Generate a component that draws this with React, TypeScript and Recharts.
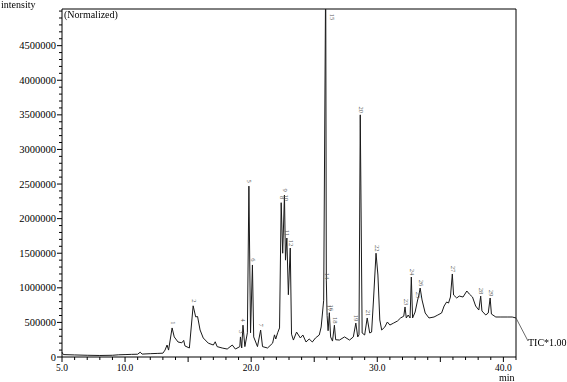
import { ComposedChart, Line, Scatter, XAxis, YAxis, ReferenceLine } from "recharts";

// retention time (min) and TIC intensity
const retentionTimes = [
  5.0, 5.1, 6.0, 7.0, 8.0, 9.0, 9.5, 10.0, 10.5, 11.0, 11.2, 11.35, 12.0, 12.6, 13.0, 13.17, 13.33, 13.45,
  13.73, 13.9, 14.2, 14.5, 14.65, 14.75, 15.1, 15.4, 15.6, 15.75, 15.95, 16.2, 16.6, 17.0, 17.15, 17.3,
  17.7, 18.1, 18.5, 18.75, 19.1, 19.15, 19.25, 19.35, 19.5, 19.7, 19.82, 19.95, 20.1, 20.2, 20.5, 20.75,
  20.9, 21.3, 21.7, 21.85, 21.95, 22.1, 22.25, 22.38, 22.5, 22.64, 22.72, 22.83, 22.95, 23.1, 23.2, 23.35,
  23.6, 23.9, 24.1, 24.35, 24.6, 24.85, 25.1, 25.4, 25.55, 25.75, 25.91, 25.96, 26.02, 26.1, 26.2, 26.3,
  26.45, 26.6, 26.7, 27.0, 27.4, 27.8, 28.1, 28.3, 28.45, 28.55, 28.65, 28.8, 29.0, 29.2, 29.4, 29.55,
  29.7, 29.9, 30.05, 30.2, 30.35, 30.6, 30.8, 31.0, 31.3, 31.6, 31.85, 32.1, 32.2, 32.3, 32.45, 32.6,
  32.7, 32.8, 33.0, 33.2, 33.3, 33.4, 33.55, 33.8, 34.1, 34.5, 34.8, 35.1, 35.3, 35.5, 35.65, 35.8,
  35.95, 36.05, 36.3, 36.5, 36.8, 37.1, 37.3, 37.55, 37.8, 38.05, 38.2, 38.3, 38.6, 38.8, 38.95, 39.05,
  39.4, 39.8, 40.3, 40.7, 41.0,
];
const intensities = [
  70000, 35000, 30000, 25000, 22000, 25000, 32000, 35000, 38000, 40000, 70000, 42000, 48000, 52000, 55000, 100000, 173000, 100000,
  420000, 290000, 217000, 205000, 240000, 160000, 130000, 740000, 580000, 585000, 390000, 275000, 200000, 173000, 220000, 150000,
  130000, 115000, 173000, 115000, 150000, 290000, 130000, 460000, 150000, 350000, 2470000, 350000, 1330000, 290000, 150000, 390000,
  150000, 130000, 200000, 320000, 260000, 350000, 420000, 2230000, 1500000, 2340000, 1400000, 1720000, 900000, 1575000, 330000, 245000,
  360000, 275000, 318000, 217000, 260000, 217000, 275000, 318000, 434000, 820000, 5600000, 1100000, 600000, 380000, 640000, 290000,
  230000, 460000, 250000, 245000, 290000, 245000, 290000, 490000, 290000, 320000, 3500000, 347000, 318000, 564000, 347000, 360000,
  824000, 1500000, 1185000, 535000, 390000, 434000, 506000, 462000, 491000, 520000, 564000, 590000, 723000, 564000, 607000, 564000,
  1156000, 564000, 650000, 824000, 896000, 997000, 824000, 636000, 564000, 578000, 607000, 636000, 737000, 795000, 780000, 867000,
  1200000, 896000, 853000, 881000, 867000, 954000, 910000, 867000, 737000, 679000, 880000, 665000, 607000, 636000, 853000, 621000,
  578000, 578000, 578000, 578000, 564000,
];

// numbered peaks
const peakNumbers = ["1", "2", "3", "4", "5", "6", "7", "8", "9", "10", "11", "12", "14", "15", "17", "16", "18", "19", "20", "21", "22", "23", "24", "25", "26", "27", "28", "29"];
const peakTimes = [13.73, 15.4, 19.15, 19.35, 19.82, 20.1, 20.75, 22.38, 22.64, 22.7, 22.83, 23.1, 25.96, 25.91, 26.15, 26.3, 26.6, 28.3, 28.65, 29.2, 29.9, 32.2, 32.7, 33.2, 33.4, 35.95, 38.2, 38.95];
const peakHeights = [420000, 740000, 290000, 460000, 2470000, 1330000, 390000, 2230000, 2340000, 2230000, 1720000, 1575000, 1100000, 5600000, 640000, 640000, 460000, 490000, 3500000, 564000, 1500000, 723000, 1156000, 824000, 997000, 1200000, 880000, 853000];

const xTickLabels = [5, 10, 20, 30, 40];
const yTickLabels = [0, 500000, 1000000, 1500000, 2000000, 2500000, 3000000, 3500000, 4000000, 4500000];

const X_MIN = 5;
const X_MAX = 41;
const Y_MAX = 5030000;

const xTicks: number[] = [];
for (let t = X_MIN; t <= X_MAX; t++) xTicks.push(t);
const yTicks: number[] = [];
for (let v = 0; v <= 5000000; v += 100000) yTicks.push(v);

const traceData = retentionTimes.map((t, i) => ({ t, v: intensities[i] }));
const peakData = peakNumbers.map((label, i) => ({
  t: peakTimes[i],
  v: Math.min(peakHeights[i], Y_MAX),
  label,
  clipped: peakHeights[i] > Y_MAX,
}));

const FONT = "Liberation Serif, Tinos, Times New Roman, serif";

function YTick({ x, y, payload }: any) {
  const major = yTickLabels.includes(payload.value);
  const len = major ? 5 : 3;
  return (
    <g>
      <line x1={x} x2={x - len} y1={y} y2={y} stroke="#000" strokeWidth={1} />
      {major && (
        <text x={x - 6} y={y + 3.5} textAnchor="end" fontSize={10.5} style={{ fontFamily: FONT }} fill="#000">
          {payload.value}
        </text>
      )}
    </g>
  );
}

function XTick({ x, y, payload }: any) {
  const labelled = xTickLabels.includes(payload.value);
  const len = payload.value % 5 === 0 ? 5 : 3;
  return (
    <g>
      <line x1={x} x2={x} y1={y} y2={y + len} stroke="#000" strokeWidth={1} />
      {labelled && (
        <text x={x} y={y + 14} textAnchor="middle" fontSize={9.5} style={{ fontFamily: FONT }} fill="#000">
          {payload.value.toFixed(1)}
        </text>
      )}
    </g>
  );
}

function PeakLabel({ cx, cy, payload }: any) {
  if (cx == null || cy == null) return null;
  const px = payload.clipped ? cx + 7 : cx + 1;
  const py = payload.clipped ? cy + 8 : cy - 5;
  return (
    <text
      x={px}
      y={py}
      transform={`rotate(90 ${px} ${py})`}
      textAnchor="middle"
      dominantBaseline="central"
      fontSize={6.5}
      style={{ fontFamily: FONT }}
      fill="#555"
    >
      {payload.label}
    </text>
  );
}

export default function App() {
  return (
    <div style={{ position: "fixed", left: 0, top: 0, width: 567, height: 382, background: "#fff", fontFamily: FONT }}>
      <ComposedChart width={567} height={382} data={traceData} margin={{ top: 9, right: 51, bottom: 0, left: 0 }}>
        <XAxis
          dataKey="t"
          type="number"
          domain={[X_MIN, X_MAX]}
          ticks={xTicks}
          interval={0}
          tick={<XTick />}
          tickSize={0}
          tickMargin={0}
          tickLine={false}
          axisLine={{ stroke: "#000" }}
          height={25}
        />
        <YAxis
          type="number"
          domain={[0, Y_MAX]}
          allowDataOverflow
          ticks={yTicks}
          interval={0}
          tick={<YTick />}
          tickSize={0}
          tickMargin={0}
          tickLine={false}
          axisLine={{ stroke: "#000" }}
          width={62}
        />
        <ReferenceLine y={Y_MAX} stroke="#000" strokeWidth={1} />
        <ReferenceLine x={X_MAX} stroke="#000" strokeWidth={1} />
        <Line
          dataKey="v"
          type="linear"
          stroke="#1a1a1a"
          strokeWidth={1}
          dot={false}
          activeDot={false}
          isAnimationActive={false}
        />
        <Scatter
          data={peakData}
          dataKey="v"
          shape={(props: any) => <PeakLabel {...props} />}
          isAnimationActive={false}
        />
      </ComposedChart>
      <div style={{ position: "absolute", left: 1, top: -1, fontSize: 10 }}>intensity</div>
      <div style={{ position: "absolute", left: 64, top: 9, fontSize: 10 }}>(Normalized)</div>
      <div style={{ position: "absolute", left: 499, top: 373, fontSize: 10, lineHeight: "10px" }}>min</div>
      <div style={{ position: "absolute", left: 528, top: 337, fontSize: 10 }}>TIC*1.00</div>
      <svg style={{ position: "absolute", left: 0, top: 0 }} width={567} height={382} pointerEvents="none">
        <line x1={516} y1={318} x2={528} y2={341} stroke="#444" strokeWidth={0.8} />
      </svg>
    </div>
  );
}
